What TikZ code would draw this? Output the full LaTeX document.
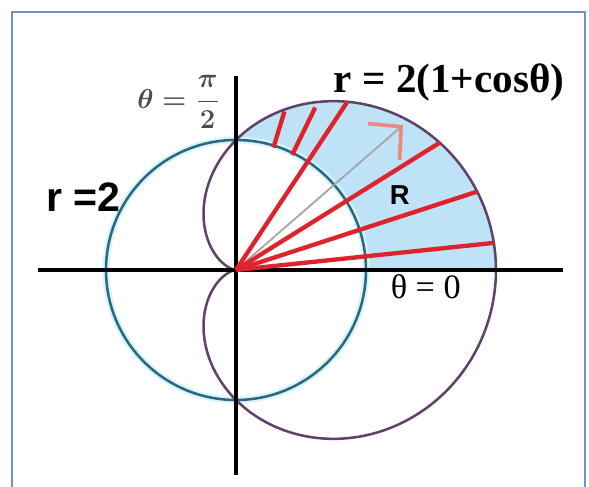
\documentclass[tikz,border=0pt]{standalone}
\usepackage{amsmath}
\usepackage{fontspec}
\setmainfont{Liberation Serif}
\newfontfamily\arialfont{Liberation Sans}
\usetikzlibrary{arrows.meta, calc}

\definecolor{circteal}{RGB}{40,105,125}
\definecolor{cardpurple}{RGB}{95,65,105}
\definecolor{regionblue}{RGB}{190,226,246}
\definecolor{rayred}{RGB}{222,35,45}
\definecolor{frameblue}{RGB}{115,145,200}
\definecolor{tipsalmon}{RGB}{240,135,125}

\begin{document}
\begin{tikzpicture}[
    axisline/.style={black, line width=1.5pt},
    rayline/.style={rayred, line width=1.9pt},
    curveline/.style={line width=1.1pt},
    lbl/.style={inner sep=0pt}
]
\useasboundingbox (-3.631,-3.338) rectangle (5.431,4.154);

% open frame (runs off the bottom edge)
\draw[frameblue, line width=1.2pt] (-3.446,-3.6) -- (-3.446,3.969) -- (5.369,3.969) -- (5.369,-3.6);

\coordinate (O) at (0,0);

% region R between circle and cardioid, first quadrant
\fill[regionblue] plot[domain=0:90, samples=60, smooth] ({2*(1+cos(\x))*cos(\x)}, {2*(1+cos(\x))*sin(\x)}) arc[start angle=90, end angle=0, radius=2] -- cycle;

% r = 2 and r = 2(1+cos theta)
\draw[cyan!15, line width=3pt] (O) circle[radius=2];
\draw[circteal, curveline] (O) circle[radius=2];
\draw[cardpurple, curveline] plot[domain=0:360, samples=200, smooth] ({2*(1+cos(\x))*cos(\x)}, {2*(1+cos(\x))*sin(\x)});

% axes
\coordinate (xl) at (-3.05,0);
\coordinate (xr) at (5.03,0);
\coordinate (yt) at (0,2.985);
\coordinate (yb) at (0,-3.15);
\draw[axisline] (xl) -- (xr);
\draw[axisline] (yt) -- (yb);

% radius arrow
\coordinate (tip) at (2.57,2.23);
\draw[gray!70, line width=0.8pt, -{Straight Barb[color=tipsalmon, line width=1.6pt, length=10pt, width=21pt]}] (O) -- (tip);

% rays and hatching
\foreach \a in {6,18,32,56.5}
    \draw[rayline] (O) -- (\a:{2*(1+cos(\a))});
\foreach \a/\b in {73/2.55, 64/2.78}
    \draw[rayline] (\a:1.97) -- (\a:\b);

% labels
\node[lbl, font=\fontsize{18}{21}\selectfont\bfseries] (cardlbl) at (3.28,2.885) {r = 2(1+cosθ)};
\node[lbl, font=\arialfont\fontsize{18}{20}\selectfont\bfseries] (circlbl) at (-2.35,1.12) {r =2};
\node[lbl, font=\arialfont\fontsize{12}{14}\selectfont\bfseries] (reglbl) at (2.52,1.15) {R};
\node[lbl, font=\fontsize{15}{17}\selectfont] (zerolbl) at (2.92,-0.257) {θ = 0};
\node[lbl, text=black!70, font=\fontsize{12}{14}\selectfont\boldmath] (halflbl) at (-0.88,2.58) {$\theta=\dfrac{\pi}{2}$};
\end{tikzpicture}
\end{document}
